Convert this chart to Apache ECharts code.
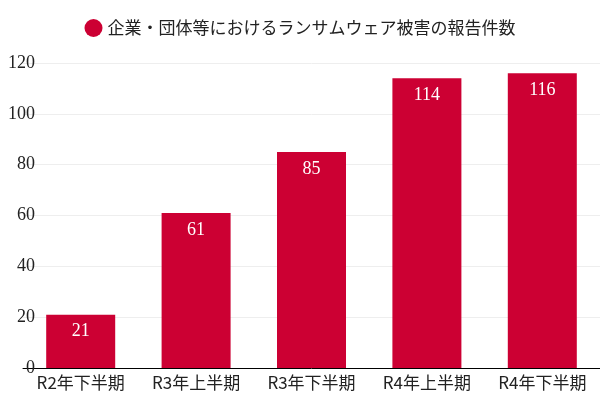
<!DOCTYPE html>
<html><head><meta charset="utf-8">
<script src="https://cdn.jsdelivr.net/npm/echarts@6/dist/echarts.min.js"></script>
<style>html,body{margin:0;padding:0;background:#fff}#c{width:600px;height:400px}</style>
</head><body><div id="c"></div>
<script>
const categories = ['R2年下半期','R3年上半期','R3年下半期','R4年上半期','R4年下半期'];
const values = [21, 61, 85, 114, 116];
const seriesName = '企業・団体等におけるランサムウェア被害の報告件数';
const chart = echarts.init(document.getElementById('c'));
chart.setOption({
  animation: false,
  legend: { top: 14, left: 'center', icon: 'circle', itemWidth: 18, itemHeight: 18,
    textStyle: { fontSize: 17, color: '#222', fontFamily: 'Noto Sans CJK JP' } },
  grid: { left: 23, right: -6, top: 63, bottom: 32, containLabel: false },
  xAxis: { type: 'category', data: categories,
    axisLine: { lineStyle: { color: '#000' } }, axisTick: { show: false },
    axisLabel: { fontSize: 17, color: '#222', fontFamily: 'Noto Sans CJK JP', margin: 6 } },
  yAxis: { type: 'value', min: 0, max: 120, interval: 20,
    axisLabel: { fontSize: 18, color: '#222', fontFamily: 'Liberation Serif', margin: -12 },
    splitLine: { lineStyle: { color: '#eee' } } },
  series: [{ name: seriesName, type: 'bar', data: values, barWidth: 69,
    itemStyle: { color: '#cc0033' },
    label: { show: true, position: 'insideTop', color: '#fff', fontSize: 18, fontFamily: 'Liberation Serif', distance: 8 } }]
});
</script></body></html>
